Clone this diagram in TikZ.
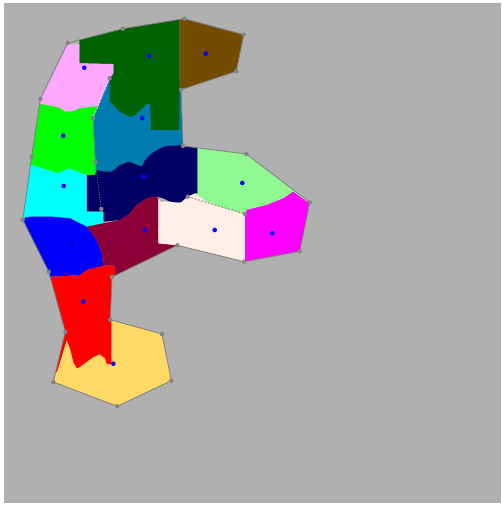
\documentclass[tikz,border=0pt]{standalone}
\usepackage{tikz}

\definecolor{bggray}{RGB}{176,176,176}
\definecolor{edgegray}{RGB}{125,125,125}
\definecolor{dotgray}{RGB}{132,132,132}
\definecolor{cdgreen}{RGB}{0,98,0}
\definecolor{cbrown}{RGB}{116,76,0}
\definecolor{cpink}{RGB}{255,168,255}
\definecolor{cteal}{RGB}{0,124,176}
\definecolor{clime}{RGB}{0,255,0}
\definecolor{ccyan}{RGB}{0,255,255}
\definecolor{cnavy}{RGB}{0,0,100}
\definecolor{clgreen}{RGB}{144,248,144}
\definecolor{ccrimson}{RGB}{140,0,56}
\definecolor{cmisty}{RGB}{255,238,232}
\definecolor{cmagenta}{RGB}{255,0,255}
\definecolor{cblue}{RGB}{0,0,255}
\definecolor{cred}{RGB}{255,0,0}
\definecolor{cyellow}{RGB}{255,216,102}

\begin{document}
\begin{tikzpicture}[
  x=1pt, y=-1pt,
  edge/.style={draw=edgegray, line width=0.8pt},
  cut/.style={line width=0.8pt, dash pattern=on 2pt off 1.5pt},
  vtx/.style={fill=dotgray},
  site/.style={fill=cblue}
]
\useasboundingbox (0,0) rectangle (502,505);
\fill[white] (0,0) rectangle (502,505);
\fill[bggray] (4,3) rectangle (501,503);

\coordinate (v1) at (67.7,43);
\coordinate (v2) at (123,28.7);
\coordinate (v3) at (184.3,18.7);
\coordinate (v4) at (243.7,34.7);
\coordinate (v5) at (236.3,71.3);
\coordinate (v6) at (181,89.7);
\coordinate (v7) at (183,146);
\coordinate (v8) at (246.3,154);
\coordinate (v9) at (309.7,202.3);
\coordinate (v10) at (299.7,251.3);
\coordinate (v11) at (244.3,261.7);
\coordinate (v12) at (177.3,245.3);
\coordinate (v13) at (112,277);
\coordinate (v14) at (110.3,319.7);
\coordinate (v15) at (162,334);
\coordinate (v16) at (171.3,380.7);
\coordinate (v17) at (117.3,406.3);
\coordinate (v18) at (53.3,382);
\coordinate (v19) at (65.3,331.7);
\coordinate (v20) at (48.7,271.7);
\coordinate (v21) at (22.7,219.7);
\coordinate (v22) at (31.7,156.7);
\coordinate (v23) at (40.3,99);
\coordinate (ia) at (109.7,78.3);
\coordinate (ib) at (93,118);
\coordinate (ic) at (95.3,162);
\coordinate (id) at (101.3,209);
\coordinate (ie) at (187.7,196.7);
\coordinate (if) at (245,214);

\begin{scope}
\clip (v1) -- (v2) -- (v3) -- (v4) -- (v5) -- (v6) -- (v7) -- (v8) -- (v9)
  -- (v10) -- (v11) -- (v12) -- (v13) -- (v14) -- (v15) -- (v16) -- (v17)
  -- (v18) -- (v19) -- (v20) -- (v21) -- (v22) -- (v23) -- cycle;
\fill[cyellow] (40,310) rectangle (185,415);
\fill[cteal] (ia) -- (190,78.3) -- (190,175) -- (95.3,175) -- (ic) -- (ib) -- cycle;
\fill[cbrown] (179.3,10) -- (260,10) -- (260,80) -- (181,89.7) -- (179.3,89.7) -- cycle;
\fill[cdgreen] (60,10) -- (179.3,10) -- (179.3,130) -- (151,130) -- (150,104)
  -- (148.3,103.3) -- (141.7,108.3) -- (135,115) -- (130,116.7) -- (120,111.7)
  -- (115,106.7) -- (110,101.7) -- (ia) -- (113.3,73.3) -- (113.3,64)
  -- (79.3,63.3) -- (79.3,10) -- cycle;
\fill[cpink] (30,44.5) -- (79.3,44.5) -- (79.3,63.3) -- (106.7,64) -- (113.3,64)
  -- (113.3,73.3) -- (ia) -- (97.8,106.7) -- (93.3,106.7) -- (80,108.3)
  -- (71.7,111.7) -- (65,111.7) -- (60,108.3) -- (55,106.7) -- (30,104) -- cycle;
\fill[clime] (20,100) -- (55,106.7) -- (60,108.3) -- (65,111.7) -- (71.7,111.7)
  -- (80,108.3) -- (93.3,106.7) -- (97.8,106.7) -- (ib) -- (ic) -- (95.3,175)
  -- (86.7,175) -- (68.3,168.3) -- (58.3,173.3) -- (31.7,165) -- (15,165) -- cycle;
\fill[cnavy] (86.7,175) -- (95,175) -- (96.7,170) -- (105,171.7) -- (111.7,171.7)
  -- (120,165) -- (128.3,161.7) -- (133.3,163.3) -- (141.7,166.7) -- (145,160)
  -- (151.7,153.3) -- (160,148.3) -- (166.7,146) -- (183,145) -- (197.7,140)
  -- (197.7,193.3) -- (ie) -- (186.7,201.7) -- (171.7,202.7) -- (163.3,198.3)
  -- (156.7,196.7) -- (146.7,198.3) -- (136.7,205) -- (130,213.3) -- (120,220)
  -- (103.3,221.7) -- (103.3,211.7) -- (86.7,211.7) -- cycle;
\fill[ccyan] (15,165) -- (31.7,165) -- (58.3,173.3) -- (68.3,168.3) -- (86.7,175)
  -- (86.7,211.7) -- (103.3,211.7) -- (103.3,223.3) -- (86.7,226.7) -- (70,218.3)
  -- (53.3,216.7) -- (30,216.7) -- (15,220) -- cycle;
\fill[cblue] (15,220) -- (30,216.7) -- (53.3,216.7) -- (70,218.3) -- (86.7,226.7)
  -- (96.7,240) -- (101.7,253) -- (103.3,265.7) -- (86.7,270) -- (80,275)
  -- (51.7,276.7) -- (40,278) -- cycle;
\fill[ccrimson] (86.7,226.7) -- (103.3,223.3) -- (120,220) -- (130,213.3)
  -- (136.7,205) -- (146.7,198.3) -- (155,196) -- (158.3,198.3) -- (158.3,243.3)
  -- (v12) -- (180,290) -- (114.3,290) -- (114.3,265.7) -- (103.3,265.7)
  -- (101.7,253) -- (96.7,240) -- cycle;
\fill[cred] (40,278) -- (51.7,276.7) -- (80,275) -- (86.7,270) -- (103.3,265.7)
  -- (114.3,265.7) -- (114.3,320) -- (111.3,320) -- (111.3,364) -- (106.7,364)
  -- (105,358.3) -- (100,354.3) -- (93.3,357) -- (86.7,361.7) -- (80,366.7)
  -- (76.7,368.3) -- (73.3,361.7) -- (70,348.3) -- (66.7,340)
  -- (57,372) -- (40,372) -- cycle;
\fill[clgreen] (197.7,140) -- (320,140) -- (320,195) -- (306.7,201.7) -- (293.3,191.7)
  -- (283.3,198.3) -- (266.7,205) -- (246.7,210) -- (if) -- (236.7,211.7)
  -- (220,206.7) -- (206.7,201.7) -- (195,193.3) -- (197.7,193.3) -- cycle;
\fill[cmisty] (158.3,198.3) -- (160,201.7) -- (170,201.7) -- (180,203.3) -- (ie)
  -- (195,193.3) -- (206.7,201.7) -- (220,206.7) -- (236.7,211.7) -- (if)
  -- (245,270) -- (v12) -- (158.3,243.3) -- cycle;
\fill[cmagenta] (if) -- (246.7,210) -- (266.7,205) -- (283.3,198.3) -- (293.3,191.7)
  -- (306.7,201.7) -- (320,195) -- (320,270) -- (245,270) -- cycle;
\end{scope}

\draw[edge] (v1) -- (v2) -- (v3) -- (v4) -- (v5) -- (v6) -- (v7) -- (v8) -- (v9)
  -- (v10) -- (v11) -- (v12) -- (v13) -- (v14) -- (v15) -- (v16) -- (v17)
  -- (v18) -- (v19) -- (v20) -- (v21) -- (v22) -- (v23) -- cycle;
\draw[cut, draw=cpink!60!white] (ia) -- (ib);
\draw[edge] (ib) -- (ic);
\draw[cut, draw=edgegray, dash pattern=on 1pt off 1.5pt] (ic) -- (id);
\draw[cut, draw=edgegray] (ie) -- (if);

\foreach \p in {v1,v2,v3,v4,v5,v6,v7,v8,v9,v10,v11,v12,v13,v14,v15,v16,v17,
                v18,v19,v20,v21,v22,v23,ia,ib,ic,id,ie,if}
  \fill[vtx] (\p) circle (2.2pt);

\foreach \x/\y in {149/56, 205.7/53.7, 84.3/67.7, 142.3/118.3, 63.3/135.7,
                   63.7/186, 143.7/176.7, 242.3/183, 145/230.3, 214.7/230,
                   272.3/233.3, 83.3/301.7, 113.3/363.7}
  \fill[site] (\x,\y) circle (2.3pt);
\filldraw[site, draw=cblue!45!black, line width=0.5pt] (71,243.7) circle (2.2pt);
\end{tikzpicture}
\end{document}
